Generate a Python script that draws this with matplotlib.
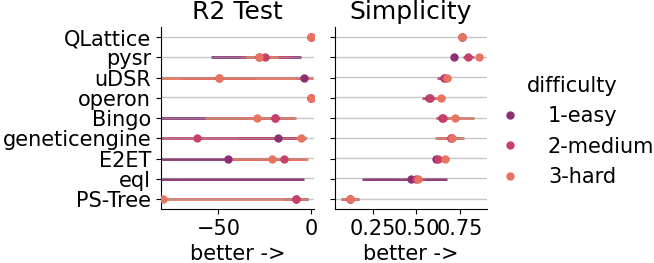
import numpy as np
import matplotlib
matplotlib.use("Agg")
import matplotlib.pyplot as plt
from matplotlib.lines import Line2D

# Algorithms, top to bottom
algorithms = ['QLattice', 'pysr', 'uDSR', 'operon', 'Bingo',
              'geneticengine', 'E2ET', 'eql', 'PS-Tree']
difficulties = ['1-easy', '2-medium', '3-hard']
colors = ['#8b2f73', '#c8406a', '#e8735e']

# R2 Test: mean and confidence interval per difficulty
r2_easy_mean = [0, -28.3, -3.8, 0, -19.7, -17.6, -45, -150, -8.4]
r2_easy_lo = [0, -54, -8, 0, -120, -40, -120, -300, -14]
r2_easy_hi = [0, -5.5, -1, 0, -10, -3, -10, -3.8, -1.5]
r2_medium_mean = [0, -25, -49.8, 0, -19.7, -61.5, -14.5, -900, -8.4]
r2_medium_lo = [0, -38, -70, 0, -35, -120, -25, -2000, -15]
r2_medium_hi = [0, -11, -30, 0, -10, -6, -5, -500, -3]
r2_hard_mean = [0, -28.3, -49.8, 0, -29.2, -5.4, -21, -1000, -79.7]
r2_hard_lo = [0, -35, -120, 0, -57, -8, -45.3, -2000, -120]
r2_hard_hi = [0, -18, 0.8, 0, -8.2, -3, -1.8, -500, -2.5]

# Simplicity: mean and confidence interval per difficulty
simp_easy_mean = [0.763, 0.716, 0.66, 0.575, 0.65, 0.70, 0.616, 0.472, 0.118]
simp_easy_lo = [0.760, 0.70, 0.64, 0.55, 0.62, 0.64, 0.60, 0.185, 0.08]
simp_easy_hi = [0.766, 0.73, 0.68, 0.60, 0.68, 0.76, 0.63, 0.674, 0.16]
simp_medium_mean = [0.763, 0.798, 0.664, 0.58, 0.654, 0.70, 0.625, 0.50, 0.118]
simp_medium_lo = [0.760, 0.77, 0.62, 0.535, 0.615, 0.62, 0.60, 0.45, 0.066]
simp_medium_hi = [0.766, 0.83, 0.69, 0.625, 0.69, 0.75, 0.65, 0.55, 0.17]
simp_hard_mean = [0.763, 0.859, 0.677, 0.641, 0.723, 0.705, 0.664, 0.507, 0.118]
simp_hard_lo = [0.760, 0.845, 0.655, 0.61, 0.612, 0.606, 0.64, 0.49, 0.07]
simp_hard_hi = [0.766, 0.87, 0.70, 0.665, 0.83, 0.775, 0.69, 0.525, 0.165]


def draw_panel(ax, means, los, his, title, xlim):
    """Draws one point-plot panel with CI bars for every difficulty."""
    y = np.arange(len(algorithms))
    for i, color in enumerate(colors):
        ax.hlines(y, los[i], his[i], color=color, linewidth=2, zorder=2)
    # light reference lines sit over the CI bars
    for yy in y:
        ax.axhline(yy - 0.02, color='#a0a0a0', linewidth=1, alpha=0.6,
                   zorder=2.5)
    for i, color in enumerate(colors):
        ax.plot(means[i], y, 'o', color=color, markersize=5, zorder=3)
    ax.set_xlim(*xlim)
    ax.set_ylim(len(algorithms) - 0.5, -0.5)
    ax.set_yticks(y)
    ax.set_title(title, fontsize=18)
    ax.set_xlabel('better ->', fontsize=15)
    ax.tick_params(labelsize=15)
    for side in ['top', 'right']:
        ax.spines[side].set_visible(False)


def main():
    fig = plt.figure(figsize=(6.54, 2.63), dpi=100)
    ax1 = fig.add_axes([0.246, 0.205, 0.234, 0.692])
    ax2 = fig.add_axes([0.512, 0.205, 0.232, 0.692])

    draw_panel(ax1,
               [r2_easy_mean, r2_medium_mean, r2_hard_mean],
               [r2_easy_lo, r2_medium_lo, r2_hard_lo],
               [r2_easy_hi, r2_medium_hi, r2_hard_hi],
               'R2 Test', (-81, 1.5))
    ax1.set_yticklabels(algorithms)

    draw_panel(ax2,
               [simp_easy_mean, simp_medium_mean, simp_hard_mean],
               [simp_easy_lo, simp_medium_lo, simp_hard_lo],
               [simp_easy_hi, simp_medium_hi, simp_hard_hi],
               'Simplicity', (0.03, 0.905))
    ax2.set_xticks([0.25, 0.5, 0.75])
    ax2.set_xticklabels(['0.25', '0.50', '0.75'])
    ax2.set_yticklabels([])

    handles = [Line2D([], [], marker='o', linestyle='', color=c, markersize=5)
               for c in colors]
    fig.legend(handles, difficulties, title='difficulty', loc='center left',
               bbox_to_anchor=(0.72, 0.5), frameon=False, fontsize=15,
               title_fontsize=15, labelspacing=0.5)

    fig.savefig('out.png', dpi=100)


if __name__ == "__main__":
    main()
